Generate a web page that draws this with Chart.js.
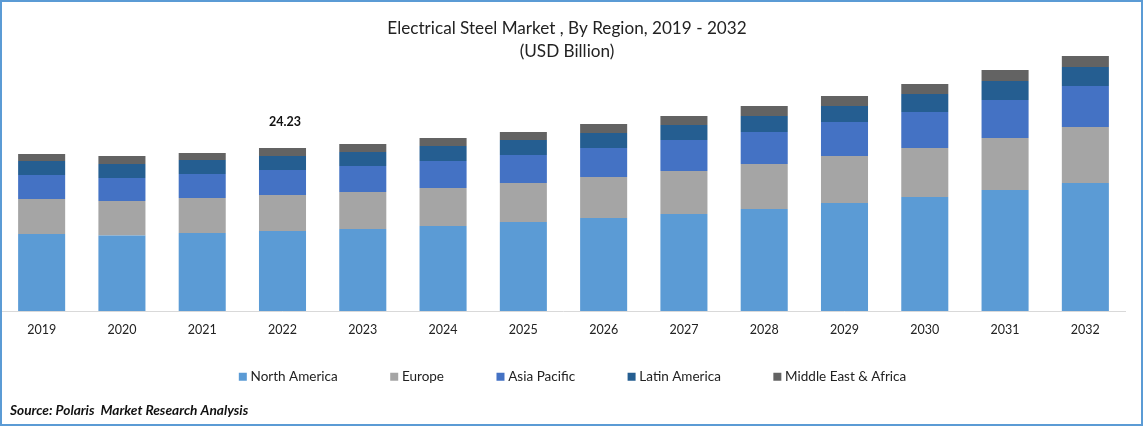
<!DOCTYPE html>
<html>
<head>
<meta charset="utf-8">
<style>
html,body{margin:0;padding:0;background:#fff;width:1143px;height:426px;overflow:hidden}
#wrap{position:relative;width:1143px;height:426px}
#c{position:absolute;left:0;top:0;width:1143px;height:426px}
#frame{position:absolute;left:0;top:0;width:1143px;height:426px;box-sizing:border-box;border:2px solid #5B9BD5;pointer-events:none}
</style>
<script src="https://cdn.jsdelivr.net/npm/chart.js@4/dist/chart.umd.min.js"></script>
</head>
<body>
<div id="wrap"><canvas id="c" width="1143" height="426"></canvas><div id="frame"></div></div>
<script>
const years = ['2019','2020','2021','2022','2023','2024','2025','2026','2027','2028','2029','2030','2031','2032'];
const northAmerica = [11.45,11.22,11.59,11.89,12.19,12.64,13.23,13.82,14.42,15.16,16.05,16.95,17.99,19.03];
const europe       = [5.20,5.13,5.20,5.35,5.50,5.65,5.80,6.09,6.39,6.69,6.99,7.28,7.73,8.32];
const asiaPacific  = [3.57,3.42,3.57,3.72,3.87,4.01,4.16,4.31,4.61,4.76,5.05,5.35,5.65,6.09];
const latinAmerica = [2.08,2.08,2.08,2.08,2.08,2.23,2.23,2.23,2.23,2.38,2.38,2.68,2.82,2.82];
const middleEast   = [1.04,1.19,1.04,1.19,1.19,1.19,1.19,1.34,1.34,1.49,1.49,1.49,1.64,1.64];
const annotatedYear = '2022';
const annotatedText = '24.23';
const sourceText = 'Source: Polaris  Market Research Analysis';
const FONT = 'Lato, "Noto Sans", sans-serif';

const extras = {
  id:'extras',
  beforeLayout(chart){
    // the legend's item gap also pads it vertically; keep the axis from being pushed up by it
    chart.legend.afterFit = function(){ this.height = 85; };
  },
  afterLayout(chart){
    chart.legend.left += 7;
    chart.legend.right += 7;
    const h = chart.legend.height;
    chart.legend.top = 314.5;
    chart.legend.bottom = 314.5 + h;
  },
  afterDatasetsDraw(chart){
    const i = years.indexOf(annotatedYear);
    const total = chart.data.datasets.reduce((s,d)=>s+d.data[i],0);
    const {ctx,scales:{x,y}} = chart;
    ctx.save();
    ctx.font = 'bold 12.5px '+FONT;
    ctx.fillStyle = '#111';
    ctx.textAlign = 'center';
    ctx.textBaseline = 'middle';
    ctx.fillText(annotatedText, x.getPixelForValue(i)+2.5, y.getPixelForValue(total)-26.5);
    ctx.font = 'italic bold 13.7px '+FONT;
    ctx.textAlign = 'left';
    ctx.fillText(sourceText, 10, 411);
    ctx.restore();
  }
};

new Chart(document.getElementById('c'),{
  type:'bar',
  data:{labels:years,datasets:[
    {label:'North America',data:northAmerica,backgroundColor:'#5B9BD5'},
    {label:'Europe',data:europe,backgroundColor:'#A5A5A5'},
    {label:'Asia Pacific',data:asiaPacific,backgroundColor:'#4472C4'},
    {label:'Latin America',data:latinAmerica,backgroundColor:'#255E91'},
    {label:'Middle East & Africa',data:middleEast,backgroundColor:'#636363'}
  ]},
  options:{
    responsive:false,
    animation:false,
    devicePixelRatio:1,
    layout:{padding:{left:1.5,right:10.5,top:17,bottom:-1}},
    datasets:{bar:{barPercentage:0.586,categoryPercentage:1}},
    scales:{
      x:{stacked:true,
         grid:{display:false,drawTicks:false},
         border:{color:'#D9D9D9',width:1},
         ticks:{font:{family:FONT,size:12.5},color:'#222',padding:11,maxRotation:0,autoSkip:false}},
      y:{stacked:true,position:'right',min:0,max:38.01,
         grid:{display:false,drawTicks:false},
         border:{display:false},
         ticks:{display:false},
         afterFit(s){s.width=7;}}
    },
    plugins:{
      tooltip:{enabled:false},
      title:{display:true,text:['Electrical Steel Market , By Region, 2019 - 2032','(USD Billion)'],
             font:{family:FONT,size:17.15,weight:'normal',lineHeight:1.35},color:'#222',padding:{top:0,bottom:-8}},
      legend:{display:true,position:'bottom',
             labels:{boxWidth:2,boxHeight:2,padding:55.5,font:{family:FONT,size:13.5},color:'#222',
               generateLabels(chart){
                 return Chart.defaults.plugins.legend.labels.generateLabels(chart)
                   .map(l=>({...l,lineWidth:6,strokeStyle:l.fillStyle}));
               }}}
    }
  },
  plugins:[extras]
});
</script>
</body>
</html>
